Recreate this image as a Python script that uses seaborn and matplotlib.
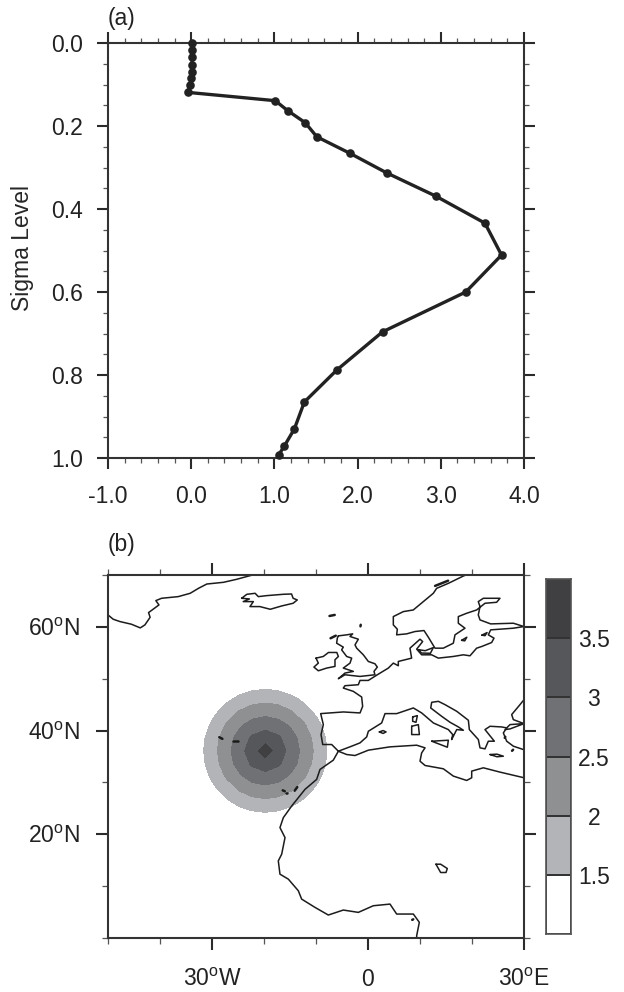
#!/usr/bin/env python3
"""Vertical heating profile (a) and its horizontal distribution over the Atlantic (b)."""

import matplotlib
matplotlib.use("Agg")
import matplotlib.pyplot as plt
import numpy as np
import pandas as pd
import seaborn as sns
from matplotlib.colors import ListedColormap
from matplotlib.ticker import MultipleLocator

# panel (a)
HEATING = [0.01, 0.01, 0.01, 0.01, 0.01, 0.00, -0.01, -0.04, 1.01, 1.16, 1.37, 1.51,
           1.91, 2.35, 2.94, 3.53, 3.73, 3.30, 2.30, 1.75, 1.36, 1.24, 1.12, 1.05]
SIGMA = [0.001, 0.017, 0.034, 0.053, 0.070, 0.085, 0.101, 0.119, 0.139, 0.163, 0.192, 0.226,
         0.266, 0.313, 0.369, 0.434, 0.511, 0.600, 0.696, 0.788, 0.865, 0.930, 0.971, 0.993]
PROFILE_XTICKS = [-1, 0, 1, 2, 3, 4]
PROFILE_XLABELS = ["-1.0", "0.0", "1.0", "2.0", "3.0", "4.0"]
PROFILE_YTICKS = [0.0, 0.2, 0.4, 0.6, 0.8, 1.0]
PROFILE_YLABELS = ["0.0", "0.2", "0.4", "0.6", "0.8", "1.0"]

# panel (b), field on a coarse grid
FIELD_LON = [-34.75, -32.25, -29.75, -27.25, -24.75, -22.25, -19.75,
             -17.25, -14.75, -12.25, -9.75, -7.25, -4.75]
FIELD_LAT = [21.1, 23.6, 26.1, 28.6, 31.1, 33.6, 36.1, 38.6, 41.1, 43.6, 46.1, 48.6, 51.1]
FIELD = [
    [0.00, 0.04, 0.32, 0.56, 0.75, 0.86, 0.90, 0.86, 0.75, 0.56, 0.32, 0.04, 0.00],
    [0.04, 0.39, 0.71, 0.98, 1.19, 1.33, 1.38, 1.33, 1.19, 0.98, 0.71, 0.39, 0.04],
    [0.32, 0.71, 1.06, 1.38, 1.63, 1.79, 1.85, 1.79, 1.63, 1.38, 1.06, 0.71, 0.32],
    [0.56, 0.98, 1.38, 1.73, 2.04, 2.25, 2.33, 2.25, 2.04, 1.73, 1.38, 0.98, 0.56],
    [0.75, 1.19, 1.63, 2.04, 2.41, 2.69, 2.80, 2.69, 2.41, 2.04, 1.63, 1.19, 0.75],
    [0.86, 1.33, 1.79, 2.25, 2.69, 3.08, 3.28, 3.08, 2.69, 2.25, 1.79, 1.33, 0.86],
    [0.90, 1.38, 1.85, 2.33, 2.80, 3.28, 3.75, 3.28, 2.80, 2.33, 1.85, 1.38, 0.90],
    [0.86, 1.33, 1.79, 2.25, 2.69, 3.08, 3.28, 3.08, 2.69, 2.25, 1.79, 1.33, 0.86],
    [0.75, 1.19, 1.63, 2.04, 2.41, 2.69, 2.80, 2.69, 2.41, 2.04, 1.63, 1.19, 0.75],
    [0.56, 0.98, 1.38, 1.73, 2.04, 2.25, 2.33, 2.25, 2.04, 1.73, 1.38, 0.98, 0.56],
    [0.32, 0.71, 1.06, 1.38, 1.63, 1.79, 1.85, 1.79, 1.63, 1.38, 1.06, 0.71, 0.32],
    [0.04, 0.39, 0.71, 0.98, 1.19, 1.33, 1.38, 1.33, 1.19, 0.98, 0.71, 0.39, 0.04],
    [0.00, 0.04, 0.32, 0.56, 0.75, 0.86, 0.90, 0.86, 0.75, 0.56, 0.32, 0.04, 0.00],
]
LEVELS = [1.5, 2, 2.5, 3, 3.5, 4]
FILL_COLORS = ["#b3b4b7", "#8f9092", "#707174", "#56575a", "#404042"]
BAR_COLORS = ["#ffffff"] + FILL_COLORS
BAR_LABELS = ["3.5", "3", "2.5", "2", "1.5"]
MAP_XTICKS = [-30, 0, 30]
MAP_XLABELS = ["30$^{\\mathrm{o}}$W", "0", "30$^{\\mathrm{o}}$E"]
MAP_YTICKS = [20, 40, 60]
MAP_YLABELS = ["20$^{\\mathrm{o}}$N", "40$^{\\mathrm{o}}$N", "60$^{\\mathrm{o}}$N"]

# coastlines as (lon, lat)
GREENLAND = [(-22.2, 70), (-22.7, 69.87), (-25.3, 69.16), (-27.8, 68.59), (-31.0, 68.26), (-32.6, 67.43),
             (-34.2, 66.47), (-36.5, 65.83), (-39.7, 65.51), (-40.8, 65.06), (-40.2, 64.23), (-42.2, 62.75),
             (-41.9, 61.85), (-42.9, 60.38), (-43.8, 59.8), (-45.5, 60.51), (-47.7, 61.02), (-49.0, 61.47),
             (-50, 62.3)]
ICELAND = [(-24.3, 65.51), (-23.3, 66.28), (-21.7, 66.47), (-21.1, 65.83), (-19.5, 66.02), (-16.3, 66.28),
           (-14.7, 66.34), (-14.4, 65.51), (-13.6, 65.19), (-14.4, 64.55), (-16.6, 64.03), (-18.8, 63.39),
           (-20.8, 63.91), (-22.7, 63.91), (-22.05, 64.87), (-24.0, 64.87), (-22.8, 65.38), (-24.3, 65.51)]
IRELAND = [(-10.0, 53.97), (-8.6, 54.29), (-7.6, 55.06), (-6.0, 55.06), (-5.7, 54.29), (-6.35, 53.65),
           (-6.35, 52.37), (-7.95, 52.05), (-9.55, 51.53), (-10.4, 52.24), (-9.55, 53.01), (-10.0, 53.97)]
BRITAIN = [(-5.7, 58.26), (-4.1, 58.46), (-2.95, 58.65), (-3.46, 58.14), (-1.86, 57.62), (-2.5, 56.53),
           (-2.18, 55.89), (-0.9, 54.61), (0.06, 53.33), (1.34, 52.88), (1.79, 52.24), (1.15, 51.41),
           (1.34, 50.76), (-1.54, 50.44), (-4.43, 50.76), (-5.7, 50.0), (-4.43, 51.09), (-2.82, 51.41),
           (-4.75, 52.05), (-3.46, 53.01), (-3.14, 53.97), (-4.1, 54.29), (-5.07, 55.57), (-4.75, 56.09),
           (-6.03, 56.85), (-5.9, 57.82), (-5.7, 58.26)]
EUROPE_NORTH = [(-5.7, 36.02), (-6.98, 37.31), (-8.71, 37.31), (-9.03, 39.23), (-8.59, 41.15), (-9.1, 43.27),
                (-4.74, 43.59), (-1.53, 43.4), (-1.03, 44.68), (-1.22, 46.47), (-2.82, 47.56), (-4.75, 48.2),
                (-4.43, 48.65), (-1.86, 48.84), (-1.54, 49.67), (0.06, 49.67), (1.79, 50.76), (3.91, 52.05),
                (4.87, 53.01), (5.83, 52.5), (5.83, 53.33), (8.39, 53.97), (8.07, 55.89), (10.0, 57.62),
                (10.51, 57.17), (9.36, 55.7), (10.32, 54.61), (12.24, 54.61), (13.52, 53.97), (16.41, 54.29),
                (18.33, 54.61), (19.61, 54.42), (20.89, 55.89), (21.86, 56.21), (23.78, 56.98), (24.23, 57.82),
                (23.14, 58.46), (23.59, 59.42), (27.95, 59.74), (30, 60.06), (27.95, 60.7), (23.59, 60.57),
                (21.54, 61.34), (21.21, 62.3), (21.54, 63.91), (21.21, 64.87), (22.18, 65.51), (25.38, 65.51),
                (24.74, 64.74), (22.5, 64.55), (20.89, 63.26), (18.97, 62.62), (17.37, 61.98), (17.37, 60.7),
                (18.65, 59.74), (16.73, 58.46), (16.41, 56.85), (14.48, 55.89), (12.88, 55.89), (11.6, 58.01),
                (10.77, 59.29), (9.04, 59.1), (7.43, 58.65), (5.51, 58.46), (5.64, 59.55), (4.87, 60.38),
                (4.87, 61.98), (6.79, 62.94), (8.71, 63.26), (10.64, 64.87), (12.56, 66.47), (13.2, 67.43),
                (15.45, 68.39), (18.33, 69.8), (18.8, 70)]
EUROPE_MED = [(-5.7, 36.02), (-3.14, 36.99), (-1.53, 37.63), (-0.25, 38.78), (0.07, 39.87), (2.63, 41.47),
              (3.27, 43.27), (5.52, 43.27), (8.72, 44.36), (10.32, 43.4), (12.57, 41.47), (15.45, 40.19),
              (16.29, 39.23), (16.09, 38.27), (17.06, 40.19), (18.34, 40.06), (17.38, 40.7), (15.77, 41.6),
              (14.17, 42.75), (12.06, 44.36), (12.25, 45.45), (13.53, 45.64), (14.81, 45.0), (17.06, 43.72),
              (19.3, 41.99), (19.49, 40.19), (21.22, 38.27), (21.54, 36.67), (22.5, 36.47), (23.14, 37.95),
              (24.3, 37.95), (22.5, 40.19), (23.47, 40.83), (25.71, 40.7), (26.67, 40.51), (26.03, 39.55),
              (26.67, 37.95), (27.95, 36.99), (30, 36.3)]
AFRICA_NORTH = [(-5.7, 36.02), (-4.1, 35.38), (-2.5, 35.19), (0.07, 36.22), (4.23, 36.86), (9.36, 37.18),
                (10.97, 36.67), (10.32, 35.7), (10.0, 34.1), (10.97, 33.27), (14.49, 32.63), (16.41, 31.22),
                (18.98, 30.38), (19.94, 30.9), (19.94, 32.18), (22.18, 32.82), (25.39, 31.99), (30, 30.9)]
AFRICA_WEST = [(-5.7, 36.02), (-6.67, 34.3), (-9.23, 32.5), (-9.88, 30.58), (-12.12, 28.66), (-14.68, 25.45),
               (-16.28, 23.21), (-16.93, 21.29), (-15.96, 19.36), (-16.6, 16.16), (-17.25, 14.87), (-16.93, 12.31),
               (-15.32, 11.35), (-13.4, 9.11), (-12.76, 7.5), (-10.19, 5.9), (-7.63, 4.43), (-4.75, 5.39),
               (-1.86, 4.94), (1.02, 6.22), (4.23, 6.54), (5.51, 4.62), (8.72, 4.62), (9.87, 3.02),
               (9.36, 0.45), (9.36, 0)]
MARMARA = [(26.67, 40.51), (27.31, 41.15), (30, 41.34), (27.31, 40.32), (26.35, 40.19)]
BLACK_SEA = [(30, 45.96), (29.23, 45.0), (27.63, 43.08), (27.95, 42.11), (30, 41.34)]
SICILY = [(12.25, 37.95), (15.45, 38.14), (15.26, 36.79), (12.25, 37.95)]
SARDINIA = [(8.4, 40.83), (9.68, 41.15), (9.88, 39.23), (8.4, 39.23), (8.4, 40.83)]
CORSICA = [(8.59, 42.63), (9.49, 42.88), (9.23, 41.6), (8.59, 41.79), (8.59, 42.63)]
MALLORCA = [(2.18, 39.74), (2.9, 40.0), (3.47, 39.74), (2.9, 39.45), (2.18, 39.74)]
CRETE = [(23.47, 35.38), (24.8, 35.45), (26.03, 35.06), (24.8, 34.95), (23.47, 35.38)]
ZEALAND = [(9.7, 55.6), (11.0, 55.4), (12.56, 56.0), (12.0, 54.9), (10.3, 54.95), (9.7, 55.6)]
GOTLAND = [(18.0, 57.4), (19.0, 58.0), (18.6, 57.3), (18.0, 57.4)]
SAAREMAA = [(21.9, 58.4), (22.9, 58.9), (22.5, 58.3), (21.9, 58.4)]
CHAD = [(13.07, 14.23), (13.97, 14.23), (15.25, 13.4), (15.0, 12.63), (13.97, 12.63), (13.07, 14.23)]
LAND = [GREENLAND, ICELAND, IRELAND, BRITAIN, EUROPE_NORTH, EUROPE_MED, AFRICA_NORTH, AFRICA_WEST,
        MARMARA, BLACK_SEA, SICILY, SARDINIA, CORSICA, MALLORCA, CRETE, ZEALAND, GOTLAND, SAAREMAA, CHAD]
# tiny islands, drawn thick
SMALL_ISLES = [[(-7.4, 62.1), (-6.4, 62.3)], [(-7.2, 57.8), (-6.2, 58.3)], [(-1.45, 60.1), (-1.4, 60.4)],
               [(12.9, 67.9), (15.4, 68.9)], [(-28.6, 38.72), (-28.0, 38.4)], [(-25.9, 37.95), (-25.05, 37.95)],
               [(-16.4, 28.47), (-16.0, 28.3)], [(-15.7, 28.0), (-15.5, 28.0)], [(-14.1, 28.4), (-13.6, 29.1)],
               [(8.5, 3.5), (8.7, 3.6)], [(27.7, 36.1), (27.9, 36.3)], [(26.3, 38.6), (26.4, 38.8)]]

LINE = "#2b2b2b"


def style_axis(ax, major, minor):
    ax.tick_params(which="major", direction="out", length=major, width=1.5, color=LINE,
                   top=True, right=True, labeltop=False, labelright=False)
    ax.tick_params(which="minor", direction="out", length=minor, width=0.9, color="#555555",
                   top=True, right=True, bottom=True, left=True)
    for spine in ax.spines.values():
        spine.set_visible(True)
        spine.set_linewidth(1.5)
        spine.set_color("#333333")


def main():
    sns.set_theme(style="ticks")
    plt.rcParams["font.family"] = ["Liberation Sans", "DejaVu Sans"]
    plt.rcParams["mathtext.fontset"] = "custom"
    plt.rcParams["mathtext.rm"] = "Liberation Sans"
    plt.rcParams["text.color"] = "#222222"
    plt.rcParams["xtick.labelcolor"] = "#222222"
    plt.rcParams["ytick.labelcolor"] = "#222222"

    W, H = 624, 992
    fig = plt.figure(figsize=(6.24, 9.92), dpi=100)
    ax_a = fig.add_axes([108 / W, 1 - 458 / H, 416 / W, 415 / H])
    ax_b = fig.add_axes([108 / W, 1 - 938 / H, 416 / W, 363 / H])
    ax_c = fig.add_axes([546 / W, 1 - 934 / H, 25 / W, 355 / H])

    # (a) profile
    profile = pd.DataFrame({"heating": HEATING, "sigma": SIGMA})
    sns.lineplot(data=profile, x="heating", y="sigma", sort=False, estimator=None, ax=ax_a,
                 color="#222222", linewidth=2.4, marker="o", markersize=6.2,
                 markeredgewidth=0, clip_on=False, zorder=5)
    ax_a.set_xlim(-1, 4)
    ax_a.set_ylim(1, 0)
    ax_a.set_xticks(PROFILE_XTICKS, PROFILE_XLABELS)
    ax_a.set_yticks(PROFILE_YTICKS, PROFILE_YLABELS)
    ax_a.xaxis.set_minor_locator(MultipleLocator(0.2))
    ax_a.yaxis.set_minor_locator(MultipleLocator(0.05))
    style_axis(ax_a, 7.7, 3.8)
    ax_a.tick_params(axis="x", which="major", labelsize=16.5, pad=11.5)
    ax_a.tick_params(axis="y", which="major", labelsize=16.5, pad=10.5)
    ax_a.set_xlabel("")
    ax_a.set_ylabel("Sigma Level", fontsize=16.5)
    ax_a.yaxis.set_label_coords(-0.177, 0.506)
    ax_a.set_title("(a)", loc="left", fontsize=16.5, pad=13)

    # (b) map
    ax_b.contourf(FIELD_LON, FIELD_LAT, np.array(FIELD), levels=LEVELS, colors=FILL_COLORS)
    for part in LAND:
        lon, lat = zip(*part)
        ax_b.plot(lon, lat, color="#1c1c1c", linewidth=1.1, solid_joinstyle="round")
    for part in SMALL_ISLES:
        lon, lat = zip(*part)
        ax_b.plot(lon, lat, color="#1c1c1c", linewidth=1.8)
    ax_b.set_xlim(-50, 30)
    ax_b.set_ylim(0, 70)
    ax_b.set_xticks(MAP_XTICKS, MAP_XLABELS)
    ax_b.set_yticks(MAP_YTICKS, MAP_YLABELS)
    ax_b.xaxis.set_minor_locator(MultipleLocator(10))
    ax_b.yaxis.set_minor_locator(MultipleLocator(10))
    style_axis(ax_b, 8.6, 4.2)
    ax_b.tick_params(axis="x", which="major", labelsize=16.5, pad=13)
    ax_b.tick_params(axis="y", which="major", labelsize=16.5, pad=11.5)
    ax_b.set_title("(b)", loc="left", fontsize=16.5, pad=17)

    # colour bar, top box first
    boxes = np.arange(len(BAR_COLORS))[::-1].reshape(-1, 1)
    sns.heatmap(boxes, ax=ax_c, cmap=ListedColormap(BAR_COLORS), cbar=False,
                linewidths=1.2, linecolor="#333333", xticklabels=False)
    for spine in ax_c.spines.values():
        spine.set_visible(True)
        spine.set_linewidth(1.2)
        spine.set_color("#555555")
    ax_c.set_yticks(range(1, len(BAR_LABELS) + 1), BAR_LABELS, rotation=0, ha="center", fontsize=16.5)
    ax_c.tick_params(axis="y", length=0, left=False, right=False, labelleft=False,
                     labelright=True, pad=16.5)

    fig.savefig("out.png", dpi=100)


if __name__ == "__main__":
    main()
